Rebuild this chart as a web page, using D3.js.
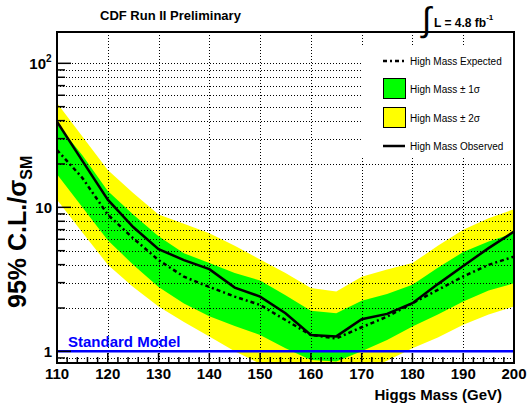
<!DOCTYPE html>
<html><head>
<meta charset="utf-8">
<script src="https://cdn.jsdelivr.net/npm/d3@7"></script>
<style>
body { margin: 0; background: #fff; }
text { font-family: "Liberation Sans", Arial, Helvetica, sans-serif; }
.grid line { stroke: #000; stroke-width: 1; stroke-dasharray: 1,2; }
</style>
<title>CDF Higgs limit</title>
</head>
<body>
<script>
var width = 528,
    height = 404;

// Higgs masses (GeV)
var mass = [110, 115, 120, 125, 130, 135, 140, 145, 150, 155, 160, 165, 170, 175, 180, 185, 190, 195, 200];
// 95% CL limit / SM
var expected = [25, 16, 8.9, 6.1, 4.3, 3.3, 2.8, 2.4, 2.1, 1.65, 1.30, 1.23, 1.47, 1.74, 2.16, 2.67, 3.31, 3.99, 4.55];
var observed = [39.4, 21, 11.3, 7.3, 5.13, 4.3, 3.72, 2.77, 2.40, 1.84, 1.30, 1.27, 1.67, 1.82, 2.16, 2.93, 3.92, 5.21, 6.79];
var sig1Up = [38, 23, 13, 8.9, 6.3, 4.8, 4.1, 3.5, 3.1, 2.45, 1.91, 1.84, 2.25, 2.5, 2.9, 3.8, 4.9, 5.8, 6.6];
var sig1Dn = [17, 10, 5.9, 4.0, 2.8, 2.15, 1.75, 1.5, 1.3, 1.05, 0.87, 0.85, 1.0, 1.2, 1.49, 1.8, 2.22, 2.65, 2.97];
var sig2Up = [53, 31, 18.2, 12.6, 8.9, 7.7, 6.6, 5.4, 4.35, 3.5, 2.75, 2.6, 3.3, 3.7, 4.1, 5.4, 7.0, 8.4, 9.7];
var sig2Dn = [11.3, 6.7, 4.0, 2.8, 2.05, 1.6, 1.27, 1.0, 0.82, 0.7, 0.6, 0.57, 0.72, 0.86, 1.05, 1.25, 1.53, 1.8, 2.05];

var xTicks = [110, 120, 130, 140, 150, 160, 170, 180, 190, 200];
var yTicks = [1, 10, 100];
var yTickLabels = ["1", "10", "10"];
var smValue = 1;

var pL = 57, pR = 514, pT = 32, pB = 363;

var x = d3.scaleLinear().domain([110, 200]).range([pL, pR]);
var y = d3.scaleLog().domain([0.83, 165]).range([pB, pT]);

var svg = d3.select("body").append("svg")
    .attr("width", width)
    .attr("height", height);

svg.append("rect").attr("width", width).attr("height", height).attr("fill", "#fff");

svg.append("defs").append("clipPath").attr("id", "clip")
  .append("rect")
    .attr("x", pL).attr("y", pT)
    .attr("width", pR - pL).attr("height", pB - pT);

var pts = mass.map(function(m, i){
  return {m: m, e: expected[i], o: observed[i], g1: sig1Up[i], g0: sig1Dn[i], y1: sig2Up[i], y0: sig2Dn[i]};
});

var plot = svg.append("g").attr("clip-path", "url(#clip)");

// bands
plot.append("path").datum(pts)
  .attr("fill", "#ffff00")
  .attr("d", d3.area().x(function(d){ return x(d.m); }).y0(function(d){ return y(d.y0); }).y1(function(d){ return y(d.y1); }));
plot.append("path").datum(pts)
  .attr("fill", "#00ff00")
  .attr("d", d3.area().x(function(d){ return x(d.m); }).y0(function(d){ return y(d.g0); }).y1(function(d){ return y(d.g1); }));

// grid
var minor = [];
[0.1, 1, 10, 100].forEach(function(dec){
  for (var k = 1; k <= 9; k++) {
    var v = dec * k;
    if (v >= 0.83 && v <= 165) minor.push(v);
  }
});
var grid = plot.append("g").attr("class", "grid");
grid.selectAll(".hg").data(minor).enter().append("line")
  .attr("x1", pL).attr("x2", pR)
  .attr("y1", function(d){ return Math.round(y(d)) + 0.5; })
  .attr("y2", function(d){ return Math.round(y(d)) + 0.5; });
grid.selectAll(".vg").data(xTicks.slice(1, -1)).enter().append("line")
  .attr("y1", pT).attr("y2", pB)
  .attr("x1", function(d){ return Math.round(x(d)) + 0.5; })
  .attr("x2", function(d){ return Math.round(x(d)) + 0.5; });

// standard model line
plot.append("line")
  .attr("x1", pL).attr("x2", pR)
  .attr("y1", y(smValue)).attr("y2", y(smValue))
  .attr("stroke", "#0000ff").attr("stroke-width", 2.5);

plot.append("path").datum(pts)
  .attr("fill", "none").attr("stroke", "#000").attr("stroke-width", 2.5)
  .attr("stroke-dasharray", "4,3,2,3")
  .attr("d", d3.line().x(function(d){ return x(d.m); }).y(function(d){ return y(d.e); }));
plot.append("path").datum(pts)
  .attr("fill", "none").attr("stroke", "#000").attr("stroke-width", 2.5)
  .attr("d", d3.line().x(function(d){ return x(d.m); }).y(function(d){ return y(d.o); }));

svg.append("text")
  .text("Standard Model")
  .attr("x", 68).attr("y", 347)
  .attr("fill", "#0000ff")
  .attr("font-size", 15).attr("font-weight", "bold");

// legend
var lg = svg.append("g");
lg.append("rect").attr("x", 362).attr("y", 47).attr("width", 151).attr("height", 111).attr("fill", "#fff");
lg.append("line").attr("x1", 383).attr("x2", 405).attr("y1", 61).attr("y2", 61)
  .attr("stroke", "#000").attr("stroke-width", 2.5).attr("stroke-dasharray", "4,3,2,3");
lg.append("rect").attr("x", 383.5).attr("y", 78.5).attr("width", 22).attr("height", 20)
  .attr("fill", "#00ff00").attr("stroke", "#000");
lg.append("rect").attr("x", 383.5).attr("y", 107.5).attr("width", 22).attr("height", 20)
  .attr("fill", "#ffff00").attr("stroke", "#000");
lg.append("line").attr("x1", 383).attr("x2", 405).attr("y1", 146).attr("y2", 146)
  .attr("stroke", "#000").attr("stroke-width", 2.5);
var legTxt = [["High Mass Expected", 61], ["High Mass \u00b1 1\u03c3", 89], ["High Mass \u00b1 2\u03c3", 118], ["High Mass Observed", 146]];
lg.selectAll(".lt").data(legTxt).enter().append("text")
  .text(function(d){ return d[0]; })
  .attr("x", 410).attr("y", function(d){ return d[1] + 3.5; })
  .attr("font-size", 10);

// frame
svg.append("rect")
  .attr("x", pL).attr("y", pT)
  .attr("width", pR - pL).attr("height", pB - pT)
  .attr("fill", "none").attr("stroke", "#000").attr("stroke-width", 2);

// x ticks
var xMinor = d3.range(110, 201, 2);
svg.selectAll(".xt").data(xMinor).enter().append("line")
  .attr("x1", function(d){ return x(d); }).attr("x2", function(d){ return x(d); })
  .attr("y1", pB)
  .attr("y2", function(d){ return pB - (d % 10 === 0 ? 10 : 6); })
  .attr("stroke", "#000").attr("stroke-width", 1.5);
svg.selectAll(".xl").data(xTicks).enter().append("text")
  .text(function(d){ return d; })
  .attr("x", function(d){ return x(d); }).attr("y", 379)
  .attr("text-anchor", "middle")
  .attr("font-size", 15).attr("font-weight", "bold");

// y ticks
svg.selectAll(".yt").data(minor).enter().append("line")
  .attr("x1", pL)
  .attr("x2", function(d){ return pL + (yTicks.indexOf(d) >= 0 ? 14 : 8); })
  .attr("y1", function(d){ return y(d); }).attr("y2", function(d){ return y(d); })
  .attr("stroke", "#000").attr("stroke-width", 1.5);
svg.selectAll(".yl").data(yTicks).enter().append("text")
  .attr("x", function(d){ return d === 100 ? 46 : 52; })
  .attr("y", function(d){ return y(d) + 6; })
  .attr("text-anchor", "end")
  .attr("font-size", 15).attr("font-weight", "bold")
  .text(function(d, i){ return yTickLabels[i]; });
svg.append("text").text("2")
  .attr("x", 46).attr("y", y(100) - 1)
  .attr("font-size", 10).attr("font-weight", "bold");

// axis titles
svg.append("text")
  .text("Higgs Mass (GeV)")
  .attr("x", 502).attr("y", 400)
  .attr("text-anchor", "end")
  .attr("font-size", 15).attr("font-weight", "bold");

var yt = svg.append("text")
  .attr("transform", "translate(26,308) rotate(-90)")
  .attr("font-size", 25).attr("font-weight", "bold");
yt.append("tspan").text("95% C.L./\u03c3");
yt.append("tspan").text("SM").attr("font-size", 16).attr("dy", 6);

// title
svg.append("text")
  .text("CDF Run II Preliminary")
  .attr("x", 100).attr("y", 20)
  .attr("font-size", 13).attr("font-weight", "bold");

svg.append("text").text("\u222b")
  .attr("x", 422).attr("y", 31)
  .attr("font-size", 34).attr("font-family", "DejaVu Sans");
var lum = svg.append("text")
  .attr("x", 434).attr("y", 27)
  .attr("font-size", 12).attr("font-weight", "bold");
lum.append("tspan").text("L = 4.8 fb");
lum.append("tspan").text("-1").attr("font-size", 8).attr("dy", -7);
</script>
</body></html>
